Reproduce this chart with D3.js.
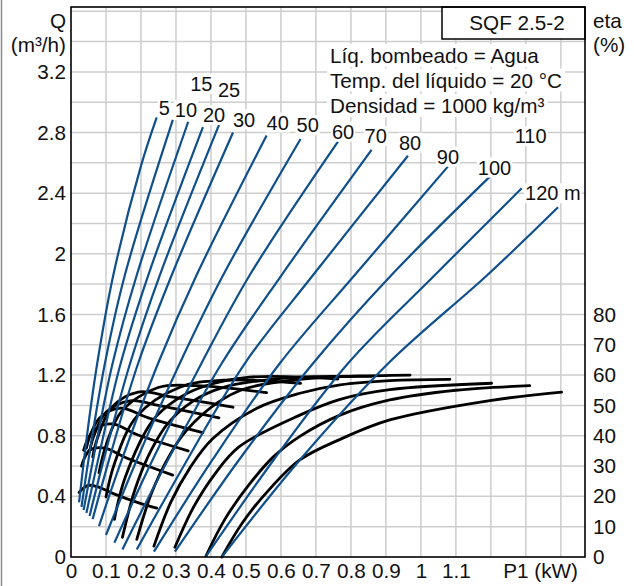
<!DOCTYPE html>
<html>
<head>
<meta charset="utf-8">
<script src="https://cdn.jsdelivr.net/npm/d3@7"></script>
<style>
  body { margin: 0; background: #fff; }
  text { font-family: "Liberation Sans", Arial, sans-serif; fill: #111; }
</style>
</head>
<body>
<svg id="chart" width="634" height="586"></svg>
<script>
// pumping head of each curve (m)
const heads = [5, 10, 15, 20, 25, 30, 40, 50, 60, 70, 80, 90, 100, 110, 120];
const headLabels = ["5", "10", "15", "20", "25", "30", "40", "50", "60", "70", "80", "90", "100", "110", "120 m"];

// Q curves: input power P1 (kW) and flow Q (m3/h), one list per head
const qP1 = [
  [0.023, 0.049, 0.075, 0.121, 0.200, 0.245],
  [0.030, 0.054, 0.097, 0.154, 0.291],
  [0.036, 0.068, 0.119, 0.188, 0.335],
  [0.044, 0.083, 0.142, 0.221, 0.377],
  [0.053, 0.100, 0.169, 0.254, 0.423],
  [0.062, 0.116, 0.192, 0.288, 0.463],
  [0.080, 0.145, 0.249, 0.359, 0.559],
  [0.100, 0.188, 0.311, 0.435, 0.656],
  [0.124, 0.233, 0.373, 0.511, 0.763],
  [0.147, 0.277, 0.431, 0.602, 0.859],
  [0.188, 0.332, 0.497, 0.692, 0.963],
  [0.237, 0.404, 0.597, 0.811, 1.077],
  [0.297, 0.480, 0.692, 0.916, 1.197],
  [0.386, 0.579, 0.792, 1.040, 1.288],
  [0.431, 0.654, 0.907, 1.190, 1.392]
];
const qFlow = [
  [0.36, 0.86, 1.278, 1.86, 2.58, 2.90],
  [0.33, 0.70, 1.278, 1.86, 2.883],
  [0.31, 0.70, 1.278, 1.86, 2.871],
  [0.29, 0.70, 1.278, 1.86, 2.836],
  [0.27, 0.70, 1.278, 1.86, 2.85],
  [0.25, 0.70, 1.278, 1.86, 2.80],
  [0.204, 0.64, 1.278, 1.86, 2.78],
  [0.145, 0.64, 1.278, 1.86, 2.757],
  [0.094, 0.64, 1.278, 1.86, 2.74],
  [0.05, 0.64, 1.278, 1.86, 2.685],
  [0.05, 0.64, 1.278, 1.86, 2.647],
  [0.035, 0.64, 1.278, 1.86, 2.575],
  [0.035, 0.64, 1.278, 1.86, 2.509],
  [0.005, 0.64, 1.278, 1.86, 2.432],
  [0.0, 0.64, 1.278, 1.86, 2.307]
];

// efficiency curves: P1 (kW) and eta (%), one list per head
const etaP1 = [
  [0.023, 0.049, 0.075, 0.121, 0.200, 0.245],
  [0.030, 0.038, 0.054, 0.097, 0.154, 0.291],
  [0.036, 0.046, 0.068, 0.119, 0.188, 0.335],
  [0.044, 0.055, 0.083, 0.142, 0.221, 0.377],
  [0.053, 0.065, 0.100, 0.169, 0.254, 0.423],
  [0.062, 0.075, 0.116, 0.192, 0.288, 0.463],
  [0.080, 0.100, 0.145, 0.249, 0.359, 0.559],
  [0.100, 0.125, 0.188, 0.311, 0.435, 0.656],
  [0.124, 0.155, 0.233, 0.300, 0.373, 0.511, 0.763],
  [0.147, 0.185, 0.230, 0.277, 0.350, 0.431, 0.602, 0.859],
  [0.188, 0.230, 0.280, 0.332, 0.420, 0.497, 0.654, 0.800, 0.969],
  [0.237, 0.285, 0.340, 0.404, 0.530, 0.654, 0.769, 0.911, 1.083],
  [0.297, 0.350, 0.410, 0.480, 0.654, 0.769, 0.911, 1.202],
  [0.386, 0.440, 0.510, 0.579, 0.654, 0.769, 0.911, 1.100, 1.311],
  [0.431, 0.490, 0.560, 0.654, 0.769, 0.911, 1.197, 1.402]
];
const etaPct = [
  [21.3, 23.6, 23.2, 20.9, 17.6, 16.1],
  [30.0, 32.5, 35.3, 35.9, 32.9, 27.0],
  [35.2, 38.4, 42.1, 43.9, 40.4, 35.0],
  [35.9, 40.2, 46.0, 49.1, 45.9, 41.0],
  [34.7, 39.8, 47.7, 51.5, 49.9, 45.9],
  [33.0, 39.0, 49.3, 54.4, 52.8, 49.4],
  [27.8, 36.8, 48.1, 55.9, 56.5, 54.2],
  [19.8, 31.1, 46.4, 56.0, 58.3, 57.3],
  [12.4, 26.3, 44.9, 51.8, 56.0, 59.3, 58.7],
  [6.5, 23.0, 35.4, 44.1, 51.5, 55.8, 58.9, 59.6],
  [5.8, 21.0, 33.2, 42.0, 51.0, 55.5, 58.6, 59.6, 60.0],
  [3.6, 18.0, 29.4, 38.9, 49.0, 54.0, 56.8, 58.2, 58.6],
  [3.2, 16.4, 27.2, 36.3, 46.8, 52.0, 55.2, 57.3],
  [0.4, 12.5, 24.0, 33.1, 39.8, 46.8, 51.8, 55.0, 56.5],
  [0.0, 11.3, 21.4, 32.0, 38.8, 45.2, 51.6, 54.4]
];

const xTicks = [0, 0.1, 0.2, 0.3, 0.4, 0.5, 0.6, 0.7, 0.8, 0.9, 1, 1.1];
const qTicks = [0, 0.4, 0.8, 1.2, 1.6, 2, 2.4, 2.8, 3.2];
const etaTicks = [0, 10, 20, 30, 40, 50, 60, 70, 80];
const modelName = "SQF 2.5-2";
const infoLines = ["Líq. bombeado = Agua", "Temp. del líquido = 20 °C", "Densidad = 1000 kg/m³"];

// label offsets from the top end of each Q curve (px)
const labelShift = [[2, -2], [2, -3], [2, -31], [0, -5], [-1, -28], [0, -6], [0, -6], [-4, -7],
  [-6, -3], [-7, -7], [-9, -6], [-11, -3], [-12, -2], [-7, -45], [-33, -7]];

const plotL = 71, plotR = 585, plotT = 7, plotB = 557;
const fontSize = "20.7px";
const labelSize = "20px";
const blue = "#0f4f8c";

const svg = d3.select("#chart");

const x = d3.scaleLinear().domain([0, 1.469]).range([plotL, plotR]);
const y = d3.scaleLinear().domain([0, 3.628]).range([plotB, plotT]);
const yEta = d3.scaleLinear().domain([0, 181.4]).range([plotB, plotT]);

// outer grey edge on the left
svg.append("line")
  .attr("x1", 1.5).attr("x2", 1.5).attr("y1", 0).attr("y2", 586)
  .attr("stroke", "#8a8a8a").attr("stroke-width", 1.5);

// grid
const grid = svg.append("g").attr("stroke", "#cdcdcd").attr("stroke-width", 1.5);
grid.selectAll(".gx")
  .data(d3.range(1, 15).map(i => i / 10))
  .enter().append("line")
  .attr("x1", d => x(d)).attr("x2", d => x(d))
  .attr("y1", plotT).attr("y2", plotB);
grid.selectAll(".gy")
  .data(d3.range(1, 19).map(i => i / 5))
  .enter().append("line")
  .attr("x1", plotL).attr("x2", plotR)
  .attr("y1", d => y(d)).attr("y2", d => y(d));

// efficiency curves (black)
const etaLine = d3.line()
  .x(d => x(d[0]))
  .y(d => yEta(d[1]))
  .curve(d3.curveCatmullRom.alpha(0.5));

svg.append("g")
  .selectAll("path")
  .data(heads.map((h, i) => etaP1[i].map((p, j) => [p, etaPct[i][j]])))
  .enter().append("path")
  .attr("d", etaLine)
  .attr("fill", "none")
  .attr("stroke", "#000")
  .attr("stroke-width", 2.8)
  .attr("stroke-linecap", "round");

// flow curves (blue)
const qLine = d3.line()
  .x(d => x(d[0]))
  .y(d => y(d[1]))
  .curve(d3.curveCatmullRom.alpha(0.5));

svg.append("g")
  .selectAll("path")
  .data(heads.map((h, i) => qP1[i].map((p, j) => [p, qFlow[i][j]])))
  .enter().append("path")
  .attr("d", qLine)
  .attr("fill", "none")
  .attr("stroke", blue)
  .attr("stroke-width", 2.2);

// head labels with white backing
const labels = svg.append("g");
heads.forEach((h, i) => {
  const n = qP1[i].length - 1;
  const g = labels.append("g");
  const t = g.append("text")
    .attr("x", x(qP1[i][n]) + labelShift[i][0])
    .attr("y", y(qFlow[i][n]) + labelShift[i][1])
    .style("font-size", labelSize)
    .text(headLabels[i]);
  const b = t.node().getBBox();
  g.insert("rect", "text")
    .attr("x", b.x - 1).attr("y", b.y + 1)
    .attr("width", b.width + 2).attr("height", b.height - 2)
    .attr("fill", "#fff");
});

// info text
infoLines.forEach((s, i) => {
  const g = svg.append("g");
  const t = g.append("text")
    .attr("x", 330)
    .attr("y", [63, 87.5, 113][i])
    .style("font-size", fontSize)
    .text(s);
  const b = t.node().getBBox();
  g.insert("rect", "text")
    .attr("x", b.x - 3).attr("y", b.y)
    .attr("width", b.width + 6).attr("height", b.height)
    .attr("fill", "#fff");
});

// model box
svg.append("rect")
  .attr("x", 442).attr("y", plotT).attr("width", plotR - 442).attr("height", 32)
  .attr("fill", "#fff").attr("stroke", "#000").attr("stroke-width", 1.5);
svg.append("text")
  .attr("x", 517).attr("y", 29.5)
  .attr("text-anchor", "middle")
  .style("font-size", fontSize)
  .text(modelName);

// frame
svg.append("rect")
  .attr("x", plotL).attr("y", plotT)
  .attr("width", plotR - plotL).attr("height", plotB - plotT)
  .attr("fill", "none").attr("stroke", "#000").attr("stroke-width", 1.6);

// axes
function styleAxis(g) {
  g.select(".domain").remove();
  g.selectAll("line").remove();
  g.selectAll("text").style("font-size", fontSize)
    .style("font-family", "'Liberation Sans', Arial, sans-serif").attr("fill", "#111");
}

svg.append("g")
  .attr("transform", "translate(" + plotL + ",0)")
  .call(d3.axisLeft(y).tickValues(qTicks).tickSize(0).tickPadding(5).tickFormat(d3.format("")))
  .call(styleAxis);

svg.append("g")
  .attr("transform", "translate(" + plotR + ",0)")
  .call(d3.axisRight(yEta).tickValues(etaTicks).tickSize(0).tickPadding(8))
  .call(styleAxis);

svg.append("g")
  .attr("transform", "translate(0," + plotB + ")")
  .call(d3.axisBottom(x).tickValues(xTicks).tickSize(0).tickPadding(6).tickFormat(d3.format("")))
  .call(styleAxis);

// axis titles
svg.append("text").attr("x", 66).attr("y", 28).attr("text-anchor", "end")
  .style("font-size", fontSize).text("Q");
svg.append("text").attr("x", 66).attr("y", 52).attr("text-anchor", "end")
  .style("font-size", fontSize).text("(m³/h)");
svg.append("text").attr("x", 593).attr("y", 28)
  .style("font-size", fontSize).text("eta");
svg.append("text").attr("x", 593).attr("y", 52)
  .style("font-size", fontSize).text("(%)");
svg.append("text").attr("x", 578).attr("y", 578).attr("text-anchor", "end")
  .style("font-size", fontSize).text("P1 (kW)");
</script>
</body>
</html>
